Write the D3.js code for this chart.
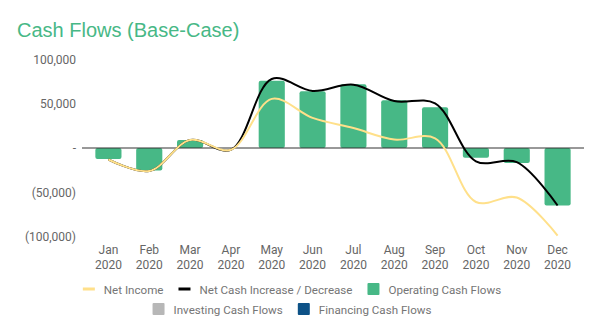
<!DOCTYPE html>
<html><head><meta charset="utf-8">
<script src="https://cdn.jsdelivr.net/npm/d3@7"></script>
<style>body{margin:0;background:#fff}svg{display:block}</style>
</head><body>
<svg id="c" width="600" height="333"></svg>
<script>
const months = ["Jan","Feb","Mar","Apr","May","Jun","Jul","Aug","Sep","Oct","Nov","Dec"];
const year = "2020";
const operatingCF = [-12500,-25500,9000,0,76000,64000,72000,54000,46000,-11000,-17000,-65000];
const netCash = [-13000,-26000,9000,-2000,78000,64500,71500,53000,50500,-15000,-16000,-65000];
const netIncome = [-13000,-26000,9000,-2000,55500,34000,22500,9500,11000,-61000,-56000,-99000];
const yTicks = [100000,50000,0,-50000,-100000];
const legendItems = [
  {name:"Net Income", type:"line", color:"#ffe08a"},
  {name:"Net Cash Increase / Decrease", type:"line", color:"#000000"},
  {name:"Operating Cash Flows", type:"box", color:"#47b886"},
  {name:"Investing Cash Flows", type:"box", color:"#b7b7b7"},
  {name:"Financing Cash Flows", type:"box", color:"#0d5287"}
];

const svg = d3.select("#c");
const font = "Roboto, 'Noto Sans', Arial, sans-serif";
const y = d3.scaleLinear().domain([-100000,100000]).range([236.5,59.5]);
const x = d3.scaleBand().domain(months).range([88,578]).paddingInner(0.36).paddingOuter(0.18);

svg.append("text").attr("x",17).attr("y",37).attr("fill","#47b886")
  .attr("font-family","Arial, 'Liberation Sans', sans-serif").attr("font-size",20).text("Cash Flows (Base-Case)");

const fmt = v => v===0 ? "-" : (v<0 ? "("+d3.format(",")(-v)+")" : d3.format(",")(v));
const yAxis = d3.axisLeft(y).tickValues(yTicks).tickFormat(fmt).tickSize(0).tickPadding(0);
const gy = svg.append("g").attr("transform","translate(76,0)").call(yAxis);
gy.select(".domain").remove();
gy.selectAll("text").attr("fill","#666").attr("font-family",font).attr("font-size",12);

// bars
svg.append("g").selectAll("rect").data(operatingCF).join("rect")
  .attr("x",(d,i)=>x(months[i])).attr("width",x.bandwidth())
  .attr("y",d=>y(Math.max(0,d))).attr("height",d=>Math.abs(y(d)-y(0)))
  .attr("rx",2).attr("fill","#47b886");

// zero line
svg.append("line").attr("x1",82).attr("x2",584).attr("y1",y(0)).attr("y2",y(0)).attr("stroke","#333").attr("stroke-width",1);

// x axis labels
const xAxis = d3.axisBottom(x).tickSize(0).tickPadding(0).tickFormat(()=>"");
const gx = svg.append("g").attr("transform","translate(0,244)").call(xAxis);
gx.select(".domain").remove();
gx.selectAll(".tick text").remove();
gx.selectAll(".tick").each(function(m){
  const t = d3.select(this).append("text").attr("fill","#666").attr("font-family",font).attr("font-size",12).attr("text-anchor","middle");
  t.append("tspan").attr("x",0).attr("y",10).text(m);
  t.append("tspan").attr("x",0).attr("y",25).text(year);
});

const line = d3.line().x((d,i)=>x(months[i])+x.bandwidth()/2).y(d=>y(d)).curve(d3.curveCatmullRom.alpha(0.5));
svg.append("path").attr("d",line(netCash)).attr("fill","none").attr("stroke","#000").attr("stroke-width",2);
svg.append("path").attr("d",line(netIncome)).attr("fill","none").attr("stroke","#ffe08a").attr("stroke-width",2);

// legend
const rows = [[0,1,2],[3,4]];
const rowY = [289,309];
rows.forEach((r,ri)=>{
  const g = svg.append("g");
  let cx = 0;
  r.forEach(idx=>{
    const it = legendItems[idx];
    const ig = g.append("g").attr("transform",`translate(${cx},0)`);
    if(it.type==="line") ig.append("rect").attr("x",0).attr("y",-1.5).attr("width",12).attr("height",3).attr("fill",it.color);
    else ig.append("rect").attr("x",0).attr("y",-6).attr("width",12).attr("height",12).attr("rx",1).attr("fill",it.color);
    const t = ig.append("text").attr("x",21).attr("y",4.5).attr("fill","#757575").attr("font-family",font).attr("font-size",11.6).text(it.name);
    cx += 21 + t.node().getComputedTextLength() + 15;
  });
  const w = cx - 15;
  g.attr("transform",`translate(${292 - w/2},${rowY[ri]})`);
});
</script>
</body></html>
